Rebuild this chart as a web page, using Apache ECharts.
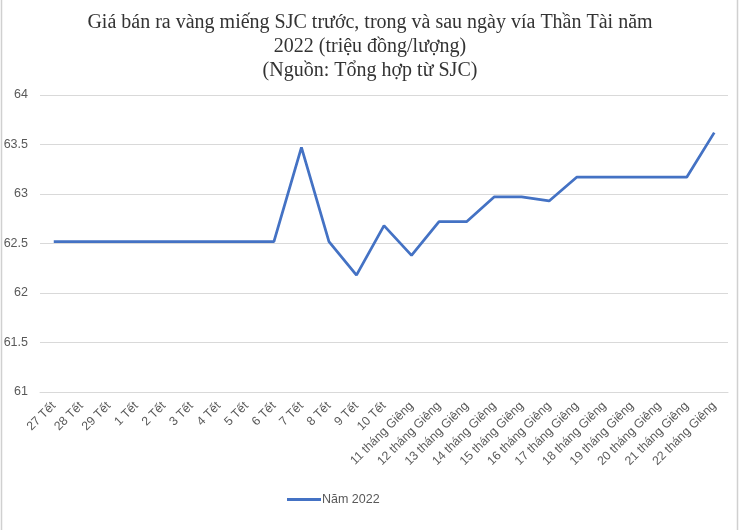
<!DOCTYPE html>
<html><head><meta charset="utf-8">
<script src="https://cdn.jsdelivr.net/npm/echarts@6/dist/echarts.min.js"></script>
<style>html,body{margin:0;padding:0;background:#fff}#c{width:740px;height:530px}</style>
</head><body><div id="c"></div>
<script>
const titleText = "Giá bán ra vàng miếng SJC trước, trong và sau ngày vía Thần Tài năm\n2022 (triệu đồng/lượng)\n(Nguồn: Tổng hợp từ SJC)";
const categories = ["27 Tết","28 Tết","29 Tết","1 Tết","2 Tết","3 Tết","4 Tết","5 Tết","6 Tết","7 Tết","8 Tết","9 Tết","10 Tết",
  "11 tháng Giêng","12 tháng Giêng","13 tháng Giêng","14 tháng Giêng","15 tháng Giêng","16 tháng Giêng","17 tháng Giêng",
  "18 tháng Giêng","19 tháng Giêng","20 tháng Giêng","21 tháng Giêng","22 tháng Giêng"];
const seriesName = "Năm 2022";
const values = [62.52,62.52,62.52,62.52,62.52,62.52,62.52,62.52,62.52,63.47,62.52,62.18,62.68,
  62.38,62.72,62.72,62.97,62.97,62.93,63.17,63.17,63.17,63.17,63.17,63.62];
const yTicks = [61, 61.5, 62, 62.5, 63, 63.5, 64];

const chart = echarts.init(document.getElementById('c'), null, {renderer:'canvas'});
chart.setOption({
  animation:false,
  backgroundColor:'#fff',
  graphic:[
    {type:'line',shape:{x1:1.5,y1:0,x2:1.5,y2:530},style:{stroke:'#d0d0d0',lineWidth:1.5}},
    {type:'line',shape:{x1:737.5,y1:0,x2:737.5,y2:530},style:{stroke:'#d0d0d0',lineWidth:1.5}}
  ],
  title:{text:titleText,left:'center',top:6,textStyle:{fontFamily:'Liberation Serif',fontWeight:'normal',fontSize:20,lineHeight:24,color:'#333'}},
  legend:{data:[seriesName],left:282,top:488,itemWidth:34,itemHeight:3,itemGap:4,icon:'rect',
    textStyle:{fontFamily:'Liberation Sans',fontSize:12.5,color:'#595959',padding:[0,0,0,-4]}},
  grid:{left:40,right:12,top:95,bottom:138,containLabel:false},
  xAxis:{type:'category',data:categories,boundaryGap:true,
    axisLine:{lineStyle:{color:'#d9d9d9'}},axisTick:{show:false},
    axisLabel:{rotate:45,interval:0,margin:12,fontFamily:'Liberation Sans',fontSize:12.3,color:'#595959'}},
  yAxis:{type:'value',min:yTicks[0],max:yTicks[yTicks.length-1],interval:0.5,
    axisLine:{show:false},axisTick:{show:false},
    splitLine:{lineStyle:{color:'#d9d9d9'}},
    axisLabel:{margin:12,fontFamily:'Liberation Sans',fontSize:12.5,color:'#595959'}},
  series:[{name:seriesName,type:'line',data:values,symbol:'none',
    lineStyle:{color:'#4472C4',width:2.75},itemStyle:{color:'#4472C4'}}]
});
</script></body></html>
